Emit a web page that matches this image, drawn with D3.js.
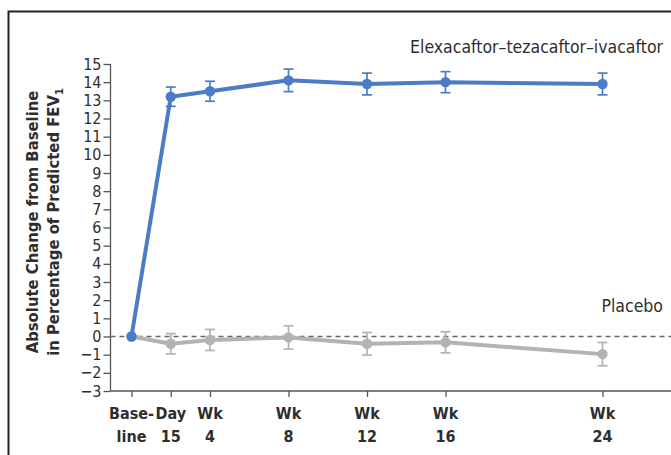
<!DOCTYPE html>
<html>
<head>
<meta charset="utf-8">
<script src="https://cdn.jsdelivr.net/npm/d3@7"></script>
<style>
  html, body { margin: 0; padding: 0; background: #fff; }
  svg { display: block; }
  text { font-family: "DejaVu Sans Condensed", "Liberation Sans Narrow", "Open Sans", sans-serif; }
</style>
</head>
<body>
<svg id="chart" width="671" height="455"></svg>
<script>
// Visits (weeks since baseline; Day 15 sits at week 2)
const visitWeeks = [0, 2, 4, 8, 12, 16, 24];
const visitLine1 = ["Base-", "Day", "Wk", "Wk", "Wk", "Wk", "Wk"];
const visitLine2 = ["line", "15", "4", "8", "12", "16", "24"];

// Mean absolute change in ppFEV1 and half-width of the error bar
const etiMean = [0, 13.2, 13.5, 14.1, 13.9, 14.0, 13.9];
const etiErr  = [0, 0.53, 0.55, 0.62, 0.6, 0.58, 0.6];
const placeboMean = [0, -0.4, -0.19, -0.05, -0.4, -0.32, -0.97];
const placeboErr  = [0, 0.56, 0.58, 0.64, 0.62, 0.58, 0.64];

const yTicks = d3.range(-3, 16);
const etiLabel = "Elexacaftor\u2013tezacaftor\u2013ivacaftor";
const placeboLabel = "Placebo";

const blue = "#4b7dc6";
const grey = "#b3b3b3";
const ink = "#2e2e2e";

const svg = d3.select("#chart");

// outer frame (runs off the right and bottom edges)
svg.append("rect")
  .attr("x", 8.5).attr("y", 11.5)
  .attr("width", 700).attr("height", 480)
  .attr("fill", "none").attr("stroke", "#222").attr("stroke-width", 2);

const axisX = 110.5;
const x = d3.scaleLinear().domain([0, 24]).range([131.5, 602.5]);
const y = d3.scaleLinear().domain([-3, 15]).range([391, 64]);

// y axis
const yAxis = svg.append("g")
  .attr("transform", `translate(${axisX},0)`)
  .call(d3.axisLeft(y).tickValues(yTicks).tickSize(7).tickPadding(2)
    .tickFormat(d => d < 0 ? "\u2212" + Math.abs(d) : d));
yAxis.select(".domain").attr("stroke", "#555").attr("stroke-width", 1.3)
  .attr("d", `M0,${y(15)}V${y(-3)}`);
yAxis.selectAll(".tick line").attr("stroke", "#555").attr("stroke-width", 1.3);
yAxis.selectAll(".tick text")
  .attr("fill", ink).attr("font-size", 16)
  .style("font-family", "'DejaVu Sans Condensed', sans-serif");

// x axis
const xAxisY = y(-3);
const xAxis = svg.append("g")
  .attr("transform", `translate(0,${xAxisY})`)
  .call(d3.axisBottom(x).tickValues(visitWeeks).tickSize(6).tickFormat(""));
xAxis.select(".domain").attr("stroke", "#555").attr("stroke-width", 1.3)
  .attr("d", `M${axisX},0H671`);
xAxis.selectAll(".tick line").attr("stroke", "#555").attr("stroke-width", 1.3);

const xLabels = svg.append("g").attr("font-weight", "bold").attr("font-size", 16)
  .attr("fill", ink).attr("text-anchor", "middle");
visitWeeks.forEach((w, i) => {
  xLabels.append("text").attr("x", x(w)).attr("y", 419).text(visitLine1[i]);
  xLabels.append("text").attr("x", x(w)).attr("y", 442).text(visitLine2[i]);
});

// y axis title
const yTitle = svg.append("text")
  .attr("transform", `translate(38,222) rotate(-90)`)
  .attr("text-anchor", "middle").attr("font-weight", "bold")
  .attr("font-size", 16.5).attr("fill", ink);
yTitle.append("tspan").attr("x", 0).attr("dy", 0).text("Absolute Change from Baseline");
yTitle.append("tspan").attr("x", 0).attr("dy", 21).text("in Percentage of Predicted FEV");
yTitle.append("tspan").attr("dy", 4).attr("font-size", 11).text("1");

// zero reference line
svg.append("line")
  .attr("x1", axisX).attr("x2", 671)
  .attr("y1", y(0)).attr("y2", y(0))
  .attr("stroke", "#666").attr("stroke-width", 1.3)
  .attr("stroke-dasharray", "5,4");

function drawSeries(means, errs, color) {
  const pts = visitWeeks.map((w, i) => ({ w, m: means[i], e: errs[i] }));
  const g = svg.append("g");
  g.append("path")
    .datum(pts)
    .attr("fill", "none").attr("stroke", color).attr("stroke-width", 4)
    .attr("stroke-linejoin", "round")
    .attr("d", d3.line().x(d => x(d.w)).y(d => y(d.m)));
  pts.filter(d => d.e > 0).forEach(d => {
    const cx = x(d.w), top = y(d.m + d.e), bot = y(d.m - d.e);
    g.append("line").attr("x1", cx).attr("x2", cx).attr("y1", top).attr("y2", bot)
      .attr("stroke", color).attr("stroke-width", 1.7);
    [top, bot].forEach(yy => g.append("line")
      .attr("x1", cx - 5).attr("x2", cx + 5).attr("y1", yy).attr("y2", yy)
      .attr("stroke", color).attr("stroke-width", 1.7));
  });
  g.selectAll("circle").data(pts).join("circle")
    .attr("cx", d => x(d.w)).attr("cy", d => y(d.m)).attr("r", 5.2)
    .attr("fill", color);
}

drawSeries(placeboMean, placeboErr, grey);
drawSeries(etiMean, etiErr, blue);

// series labels
svg.append("text").attr("x", 663).attr("y", 53).attr("text-anchor", "end")
  .attr("font-size", 17.5).attr("fill", ink).text(etiLabel);
svg.append("text").attr("x", 663).attr("y", 312).attr("text-anchor", "end")
  .attr("font-size", 17.5).attr("fill", ink).text(placeboLabel);
</script>
</body>
</html>
